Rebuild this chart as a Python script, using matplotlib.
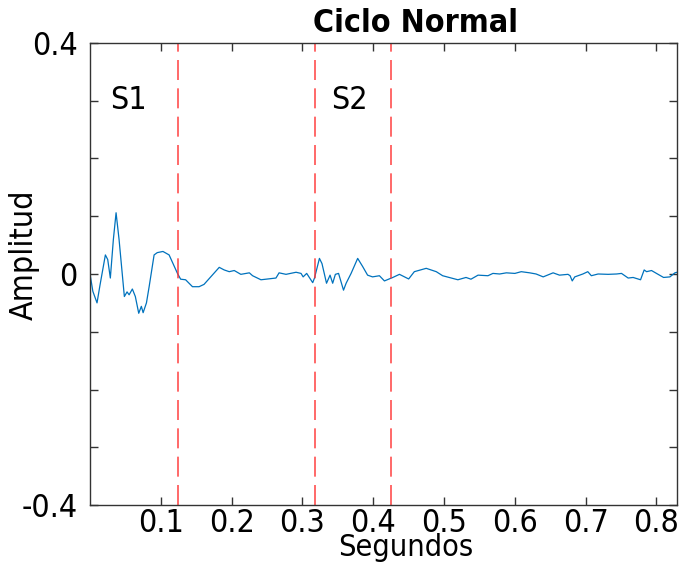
import numpy as np
import matplotlib
matplotlib.use('Agg')
import matplotlib.pyplot as plt
from matplotlib.ticker import FixedLocator, FixedFormatter

plt.rcParams['font.family'] = 'DejaVu Sans'
plt.rcParams['font.stretch'] = 'condensed'

# traced heart sound cycle (seconds, amplitude)
tiempo = [0.0, 0.004, 0.0099, 0.014, 0.0217, 0.025, 0.0287, 0.033, 0.0368, 0.041,
          0.0485, 0.0523, 0.0552, 0.0598, 0.064, 0.0688, 0.0725, 0.075, 0.0797,
          0.0835, 0.0905, 0.095, 0.103, 0.1117, 0.1235, 0.128, 0.135, 0.1447, 0.154,
          0.161, 0.1825, 0.1895, 0.1966, 0.2037, 0.213, 0.225, 0.2296, 0.2414, 0.2485,
          0.2626, 0.267, 0.2768, 0.291, 0.298, 0.301, 0.306, 0.3145, 0.317, 0.324,
          0.3276, 0.334, 0.339, 0.3427, 0.3465, 0.351, 0.358, 0.3617, 0.3687, 0.378,
          0.385, 0.392, 0.399, 0.4087, 0.4158, 0.4276, 0.437, 0.450, 0.458, 0.4748,
          0.489, 0.498, 0.5195, 0.531, 0.538, 0.548, 0.562, 0.569, 0.5785, 0.588,
          0.600, 0.609, 0.621, 0.630, 0.640, 0.654, 0.663, 0.675, 0.678, 0.681,
          0.6846, 0.696, 0.703, 0.708, 0.7175, 0.7317, 0.7436, 0.7506, 0.760, 0.767,
          0.7775, 0.7826, 0.786, 0.793, 0.800, 0.810, 0.819, 0.826, 0.829]
amplitud = [0.0, -0.03, -0.050, -0.02, 0.033, 0.025, -0.007, 0.06, 0.106, 0.06,
            -0.039, -0.031, -0.036, -0.026, -0.039, -0.068, -0.056, -0.067, -0.050,
            -0.022, 0.033, 0.037, 0.039, 0.033, 0.001, -0.009, -0.010, -0.022, -0.022,
            -0.018, 0.0115, 0.007, 0.004, 0.006, -0.0006, 0.002, -0.003, -0.010, -0.009,
            -0.007, 0.002, -0.0006, 0.003, 0.001, -0.005, 0.001, -0.015, -0.007, 0.027,
            0.018, -0.016, -0.002, -0.016, -0.0006, 0.001, -0.028, -0.016, 0.001, 0.027,
            0.013, -0.002, -0.005, -0.003, -0.012, -0.006, -0.0006, -0.0086, 0.004, 0.0098,
            0.004, -0.003, -0.010, -0.006, -0.009, -0.002, -0.003, 0.001, 0.0, 0.002,
            0.001, 0.004, 0.002, 0.0, -0.005, 0.002, -0.002, -0.0006, -0.003, -0.012,
            -0.005, 0.0, 0.004, -0.003, 0.0, -0.0006, 0.0, 0.001, -0.007, -0.006,
            -0.010, 0.007, 0.004, 0.006, 0.001, -0.006, -0.005, 0.002, 0.003]

# S1 / S2 boundaries
limites = [0.0, 0.1245, 0.318, 0.4257]
etiquetas = ['S1', 'S2']
pos_etiquetas = [0.054, 0.366]

xticks = [0.1, 0.2, 0.3, 0.4, 0.5, 0.6, 0.7, 0.8]
yticks = [-0.4, -0.3, -0.2, -0.1, 0.0, 0.1, 0.2, 0.3, 0.4]
yticklabels = ['-0.4', '', '', '', '0', '', '', '', '0.4']

fs = 23

fig = plt.figure(figsize=(6.84, 5.64), dpi=100)
ax = fig.add_axes([0.1316, 0.1045, 0.8582, 0.8194])

ax.plot(tiempo, amplitud, color='#0072BD', linewidth=0.9)
for x in limites:
    ax.axvline(x, color='#ff3030', linestyle=(0, (12, 5)), linewidth=1.2, alpha=0.85)
for lab, x in zip(etiquetas, pos_etiquetas):
    ax.text(x, 0.30, lab, fontsize=fs, ha='center', va='center')

ax.set_xlim(0, 0.829)
ax.set_ylim(-0.4, 0.4)
ax.set_xticks(xticks)
ax.set_xticklabels(['%.1f' % t for t in xticks])
ax.yaxis.set_major_locator(FixedLocator(yticks))
ax.yaxis.set_major_formatter(FixedFormatter(yticklabels))
ax.tick_params(direction='in', length=6, width=1, color='#333333',
               labelsize=fs, top=True, right=True)
ax.tick_params(axis='x', pad=2)
ax.tick_params(axis='y', pad=9)
for s in ax.spines.values():
    s.set_color('#333333')
    s.set_linewidth(1)

ax.set_xlabel('Segundos', fontsize=22)
ax.set_ylabel('Amplitud', fontsize=fs)
ax.xaxis.set_label_coords(0.5375, -0.06)
ax.yaxis.set_label_coords(-0.085, 0.542)
ax.text(0.554, 1.008, 'Ciclo Normal', transform=ax.transAxes, fontsize=fs,
        fontweight='bold', ha='center', va='bottom')

fig.savefig('out.png', dpi=100)
